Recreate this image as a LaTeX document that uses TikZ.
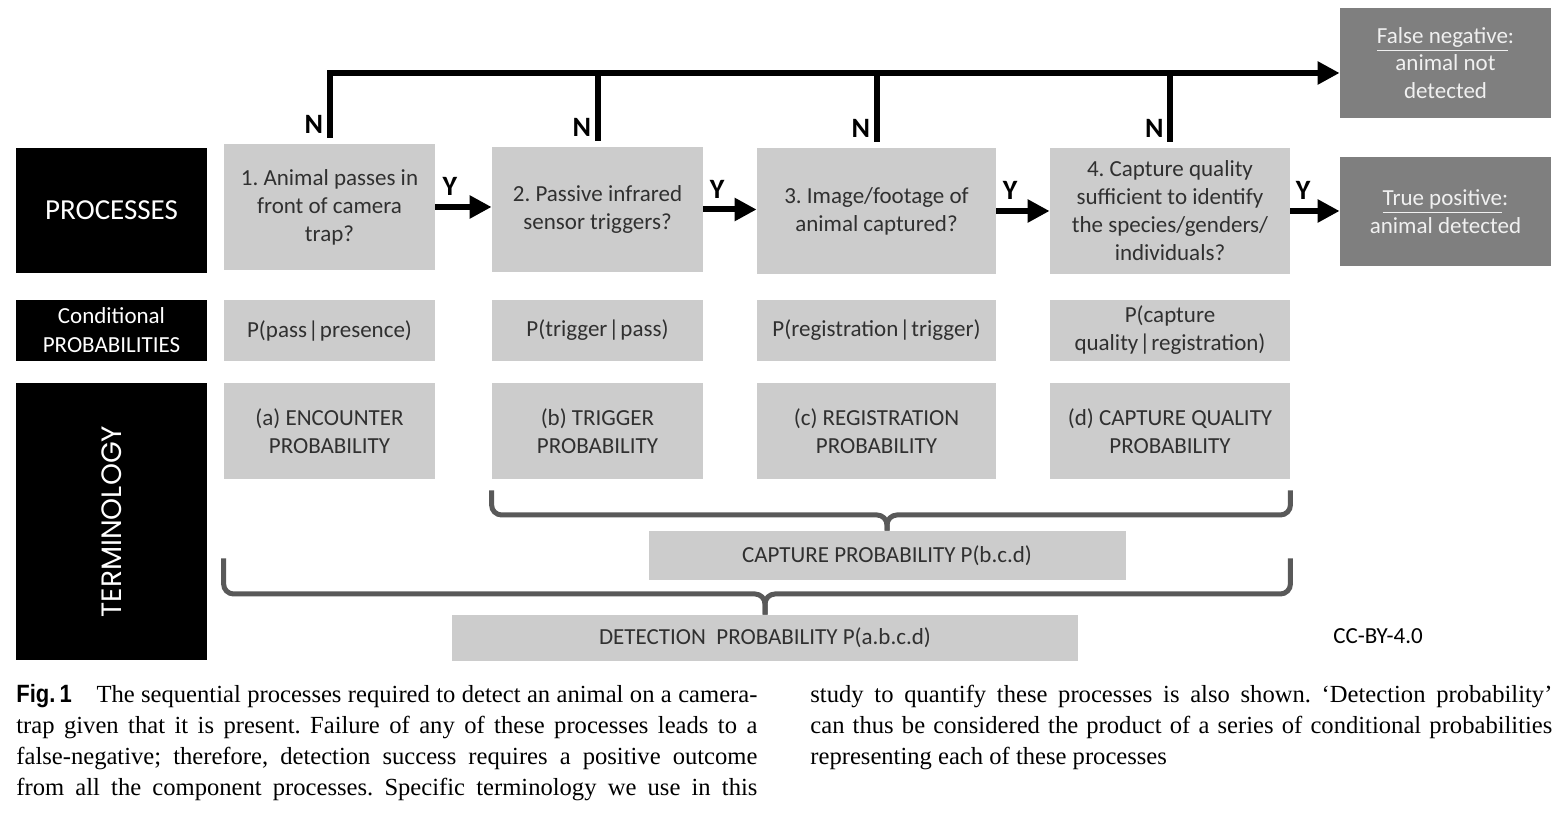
\documentclass[tikz,border=0pt]{standalone}
\usepackage{fontspec}
\setmainfont{Carlito}
\newfontfamily\capfont{Liberation Serif}
\newfontfamily\figfont[FakeStretch=0.88]{Liberation Sans}
\newfontfamily\termfont{Poppins}
\usetikzlibrary{arrows.meta,calc}

\definecolor{boxgray}{HTML}{CCCCCC}
\definecolor{darkbox}{HTML}{7F7F7F}
\definecolor{bracegray}{HTML}{595959}
\definecolor{textgray}{HTML}{303030}

\newcommand{\given}{\kern0.6pt|\kern0.6pt}

\begin{document}
\frenchspacing
\begin{tikzpicture}[x=0.5pt, y=-0.5pt,
    sidebox/.style={fill=black, text=white, minimum width=95.5pt, inner sep=0pt, align=center},
    procbox/.style={fill=boxgray, text=textgray, inner sep=0pt, align=center, font=\fontsize{11.5}{14}\selectfont},
    endbox/.style={fill=darkbox, text=white!94!black, minimum width=105.5pt, inner sep=0pt, align=center, font=\fontsize{11.5}{13.75}\selectfont},
    yarrow/.style={line width=3pt, -{Triangle[length=11pt,width=11pt]}},
    nline/.style={line width=3pt},
    brace/.style={draw=bracegray, line width=2.5pt, rounded corners=5pt},
    lab/.style={inner sep=0pt, font=\fontsize{14}{14}\selectfont\bfseries},
    capline/.style={anchor=base west, inner sep=0pt, font=\capfont\fontsize{12.3}{15.5}\selectfont}]
    \useasboundingbox (0,0) rectangle (1560,817);

    % left column headings
    \node[sidebox, minimum height=62.5pt, font=\fontsize{14.5}{16}\selectfont] (procs) at (111.5,210.5) {PROCESSES};
    \node[sidebox, minimum height=30.5pt, font=\fontsize{11.5}{14.5}\selectfont] (condp) at (111.5,330.5) {Conditional\\PROBABILITIES};
    \node[sidebox, minimum height=138.5pt] (term) at (111.5,521.5) {};
    \node[text=white, rotate=90, font=\termfont\fontsize{14}{16}\selectfont] (termtxt) at (term.center) {TERMINOLOGY};

    % processes
    \node[procbox, minimum width=105.5pt, minimum height=63pt] (p1) at (329.5,207) {1. Animal passes in\\front of camera\\trap?};
    \node[procbox, minimum width=105.5pt, minimum height=62.5pt] (p2) at (597.5,209.5) {2. Passive infrared\\sensor triggers?};
    \node[procbox, minimum width=119.5pt, minimum height=63pt] (p3) at (876.5,211) {3. Image/footage of\\animal captured?};
    \node[procbox, minimum width=120pt, minimum height=63pt] (p4) at (1170,211) {4. Capture quality\\sufficient to identify\\the species/genders/\\individuals?};

    % outcomes
    \node[endbox, minimum height=55pt] (fneg) at (1445.5,63) {\underline{False negative}:\\animal not\\detected};
    \node[endbox, minimum height=54.5pt] (tpos) at (1445.5,211.5) {\underline{True positive}:\\animal detected};

    % conditional probabilities
    \node[procbox, minimum width=105.5pt, minimum height=30.5pt] (c1) at (329.5,330.5) {P(pass\given presence)};
    \node[procbox, minimum width=105.5pt, minimum height=30.5pt] (c2) at (597.5,330.5) {P(trigger\given pass)};
    \node[procbox, minimum width=119.5pt, minimum height=30.5pt] (c3) at (876.5,330.5) {P(registration\given trigger)};
    \node[procbox, minimum width=120pt, minimum height=30.5pt] (c4) at (1170,330.5) {P(capture\\quality\given registration)};

    % terminology
    \node[procbox, minimum width=105.5pt, minimum height=48pt] (t1) at (329.5,431) {(a) ENCOUNTER\\PROBABILITY};
    \node[procbox, minimum width=105.5pt, minimum height=48pt] (t2) at (597.5,431) {(b) TRIGGER\\PROBABILITY};
    \node[procbox, minimum width=119.5pt, minimum height=48pt] (t3) at (876.5,431) {(c) REGISTRATION\\PROBABILITY};
    \node[procbox, minimum width=120pt, minimum height=48pt] (t4) at (1170,431) {(d) CAPTURE QUALITY\\PROBABILITY};

    \node[procbox, minimum width=238.5pt, minimum height=24.5pt] (capt) at (887,555.5) {CAPTURE PROBABILITY P(b.c.d)};
    \node[procbox, minimum width=313pt, minimum height=23pt] (dete) at (765,638) {DETECTION\ \ PROBABILITY P(a.b.c.d)};
    \node[inner sep=0pt, font=\fontsize{11.5}{14}\selectfont] (lic) at (1378,636) {CC-BY-4.0};

    % N branches to false negative
    \coordinate (top) at (0,73);
    \draw[nline, -{Triangle[length=11pt,width=11pt]}] ([yshift=3pt]p1.north) |- (fneg.west |- top);
    \draw[nline] ([yshift=3pt]p2.north) -- (p2.north |- top);
    \draw[nline] ([yshift=3pt]p3.north) -- (p3.north |- top);
    \draw[nline] ([yshift=3pt]p4.north) -- (p4.north |- top);
    \node[lab, anchor=south east] (n1) at ([xshift=-3pt,yshift=5pt]p1.north) {N};
    \node[lab, anchor=south east] (n2) at ([xshift=-3pt,yshift=5pt]p2.north) {N};
    \node[lab, anchor=south east] (n3) at ([xshift=-3pt,yshift=5pt]p3.north) {N};
    \node[lab, anchor=south east] (n4) at ([xshift=-3pt,yshift=5pt]p4.north) {N};

    % Y arrows
    \draw[yarrow] (p1.east) -- (p1.east -| p2.west) node[lab, pos=0.26, above=4pt] {Y};
    \draw[yarrow] (p2.east) -- (p2.east -| p3.west) node[lab, pos=0.26, above=4pt] {Y};
    \draw[yarrow] (p3.east) -- (p3.east -| p4.west) node[lab, pos=0.26, above=4pt] {Y};
    \draw[yarrow] (p4.east) -- (p4.east -| tpos.west) node[lab, pos=0.26, above=4pt] {Y};

    % braces
    \coordinate (ub) at (0,515);
    \coordinate (lb) at (0,594);
    \draw[brace] ($(t2.south west)+(0,11)$) |- (ub -| capt.north) -- (capt.north);
    \draw[brace] ($(t4.south east)+(0,11)$) |- (ub -| capt.north) -- (capt.north);
    \draw[brace] ($(t1.south west)+(0,79)$) |- (lb -| dete.north) -- (dete.north);
    \draw[brace] ($(t4.south east)+(0,79)$) |- (lb -| dete.north) -- (dete.north);

    % caption
    \node[capline] (cap1) at (16,703) {\makebox[370.5pt][s]{{\figfont\bfseries\fontsize{12.5}{14}\selectfont Fig.\,1}\quad The sequential processes required to detect an animal on a camera-}};
    \node[capline] (cap2) at (16,734) {\makebox[370.5pt][s]{trap given that it is present. Failure of any of these processes leads to a}};
    \node[capline] (cap3) at (16,765) {\makebox[370.5pt][s]{false-negative; therefore, detection success requires a positive outcome}};
    \node[capline] (cap4) at (16,796) {\makebox[370.5pt][s]{from all the component processes. Specific terminology we use in this}};
    \node[capline] (cap5) at (810,703) {\makebox[371pt][s]{study to quantify these processes is also shown. ‘Detection probability’}};
    \node[capline] (cap6) at (810,734) {\makebox[371pt][s]{can thus be considered the product of a series of conditional probabilities}};
    \node[capline] (cap7) at (810,765) {representing each of these processes};
\end{tikzpicture}
\end{document}
